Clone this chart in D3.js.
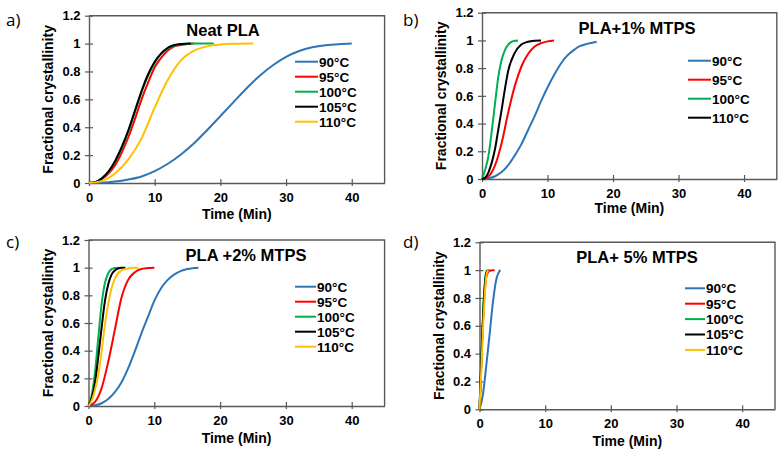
<!DOCTYPE html>
<html>
<head>
<meta charset="utf-8">
<script src="https://cdn.jsdelivr.net/npm/d3@7"></script>
<style>
  body { margin: 0; background: #fff; }
  text { font-family: "Liberation Sans", Arial, sans-serif; }
</style>
</head>
<body>
<script>
// canvas
const width = 784;
const height = 457;

// ticks
const xTicks = [0, 10, 20, 30, 40];
const xTickLabels = ['0', '10', '20', '30', '40'];
const yTicks = [0, 0.2, 0.4, 0.6, 0.8, 1, 1.2];
const yTickLabels = ['0', '0.2', '0.4', '0.6', '0.8', '1', '1.2'];

// series colours
const blue = '#2e75b6', red = '#ff0000', green = '#00b050', black = '#000000', yellow = '#ffc000';

// a) Neat PLA  [time (min), fractional crystallinity]
const neat90 = [[0,0],[2,0.002],[4,0.01],[6,0.025],[8,0.047],[10,0.085],[12,0.138],[14,0.205],[16,0.285],[18,0.38],[20,0.48],[22,0.58],[24,0.68],[26,0.77],[28,0.845],[30,0.905],[32,0.947],[34,0.973],[36,0.988],[38,0.996],[40,1]];
const neat95 = [[0,0],[1,0.005],[2,0.03],[3,0.07],[4,0.13],[5,0.22],[6,0.33],[7,0.46],[8,0.6],[9,0.72],[10,0.83],[11,0.9],[12,0.95],[13,0.98],[14,0.99],[15,0.997],[16,1]];
const neat100 = [[0,0],[1,0.006],[2,0.033],[3,0.08],[4,0.155],[5,0.25],[6,0.37],[7,0.51],[8,0.65],[9,0.77],[10,0.86],[11,0.93],[12,0.965],[13,0.985],[14,0.995],[15,0.999],[16,1],[17,1],[18,1],[19,1]];
const neat105 = [[0,0],[1,0.007],[2,0.035],[3,0.085],[4,0.16],[5,0.26],[6,0.38],[7,0.52],[8,0.66],[9,0.78],[10,0.87],[11,0.93],[12,0.97],[13,0.99],[14,0.997],[15.5,1]];
const neat110 = [[0,0],[2,0.015],[4,0.07],[6,0.17],[8,0.32],[10,0.54],[12,0.74],[14,0.88],[16,0.95],[18,0.98],[20,0.993],[22,0.998],[25,1]];

// b) PLA+1% MTPS
const one90 = [[0,0],[1,0.005],[2,0.02],[3,0.05],[4,0.1],[5,0.17],[6,0.25],[7,0.35],[8,0.45],[9,0.56],[10,0.66],[11,0.75],[12,0.83],[13,0.89],[14,0.93],[15,0.96],[16,0.975],[17,0.985],[17.5,0.99]];
const one95 = [[0,0],[1,0.02],[2,0.1],[3,0.26],[4,0.48],[5,0.67],[6,0.81],[7,0.9],[8,0.955],[9,0.98],[10,0.993],[11,1]];
const one100 = [[0,0],[0.5,0.07],[1,0.17],[1.5,0.35],[2,0.55],[2.5,0.74],[3,0.86],[3.5,0.93],[4,0.97],[4.5,0.99],[5,0.997],[5.5,1]];
const one110 = [[0,0],[0.5,0.01],[1,0.05],[1.5,0.12],[2,0.22],[2.5,0.36],[3,0.5],[3.5,0.65],[4,0.78],[5,0.91],[6,0.97],[7,0.99],[8,0.998],[9,1]];

// c) PLA +2% MTPS
const two90 = [[0,0],[1,0.005],[2,0.02],[3,0.05],[4,0.1],[5,0.17],[6,0.27],[7,0.39],[8,0.52],[9,0.64],[10,0.76],[11,0.85],[12,0.91],[13,0.95],[14,0.975],[15,0.99],[16,0.997],[16.7,1]];
const two95 = [[0,0],[1,0.03],[2,0.13],[3,0.32],[4,0.55],[5,0.78],[6,0.91],[7,0.965],[8,0.99],[9,0.997],[10,1]];
const two100 = [[0,0],[0.5,0.08],[1,0.25],[1.5,0.5],[2,0.74],[2.5,0.89],[3,0.96],[3.5,0.99],[4,0.997],[4.6,1]];
const two105 = [[0,0],[0.5,0.06],[1,0.17],[1.5,0.36],[2,0.57],[2.5,0.76],[3,0.88],[3.5,0.95],[4,0.98],[4.5,0.994],[5,0.999],[5.6,1]];
const two110 = [[0,0],[0.5,0.04],[1,0.12],[1.5,0.23],[2,0.4],[2.5,0.59],[3,0.74],[3.5,0.85],[4,0.92],[5,0.98],[6,0.995],[7,0.999],[7.6,1]];

// d) PLA+ 5% MTPS
const five90 = [[0,0],[0.5,0.1],[1,0.3],[1.5,0.52],[2,0.75],[2.5,0.92],[3,0.99],[3.2,1]];
const five95 = [[0,0],[0.25,0.3],[0.5,0.6],[0.75,0.82],[1,0.94],[1.25,0.98],[1.5,0.995],[2,1],[2.3,1]];
const five100 = [[0,0],[0.2,0.27],[0.4,0.53],[0.6,0.75],[0.8,0.9],[1,0.98],[1.2,1]];
const five105 = [[0,0],[0.2,0.25],[0.4,0.5],[0.6,0.72],[0.8,0.88],[1,0.97],[1.2,0.995],[1.5,1]];
const five110 = [[0,0],[0.2,0.2],[0.4,0.42],[0.6,0.64],[0.8,0.82],[1,0.94],[1.2,0.99],[1.4,1]];

// 面板布局 (positions only)
const panels = [
  { tag: 'a)', tagX: 6, tagY: 26, title: 'Neat PLA', titleX: 223, titleY: 35.5,
    left: 89, right: 384.6, top: 15.7, bottom: 183, yTitleX: 48, xTitleDy: 36,
    legX: 295, legY: 61.7, legStep: 15, legLen: 23,
    series: [['90°C', blue, neat90], ['95°C', red, neat95], ['100°C', green, neat100], ['105°C', black, neat105], ['110°C', yellow, neat110]] },
  { tag: 'b)', tagX: 403, tagY: 26, title: 'PLA+1% MTPS', titleX: 637, titleY: 33.5,
    left: 482, right: 776.8, top: 12.7, bottom: 179, yTitleX: 441, xTitleDy: 33.5,
    legX: 688, legY: 60.7, legStep: 19, legLen: 23,
    series: [['90°C', blue, one90], ['95°C', red, one95], ['100°C', green, one100], ['110°C', black, one110]] },
  { tag: 'c)', tagX: 6, tagY: 248, title: 'PLA +2% MTPS', titleX: 246, titleY: 260.5,
    left: 88.5, right: 384.6, top: 240, bottom: 406, yTitleX: 48, xTitleDy: 36.5,
    legX: 295, legY: 286.7, legStep: 15, legLen: 21,
    series: [['90°C', blue, two90], ['95°C', red, two95], ['100°C', green, two100], ['105°C', black, two105], ['110°C', yellow, two110]] },
  { tag: 'd)', tagX: 403, tagY: 248, title: 'PLA+ 5% MTPS', titleX: 637, titleY: 262.5,
    left: 479.5, right: 775, top: 242.3, bottom: 409.3, yTitleX: 439, xTitleDy: 37,
    legX: 685, legY: 288.3, legStep: 15.4, legLen: 20,
    series: [['90°C', blue, five90], ['95°C', red, five95], ['100°C', green, five100], ['105°C', black, five105], ['110°C', yellow, five110]] }
];

const axisColor = '#595959';

let svg = d3.select('body')
    .append('svg')
    .attr('width', width)
    .attr('height', height);

panels.forEach(p => {
  const x = d3.scaleLinear().domain([0, 45]).range([p.left, p.right]);
  const y = d3.scaleLinear().domain([0, 1.2]).range([p.bottom, p.top]);
  const g = svg.append('g');

  // 边框 (top / right)
  g.append('path')
    .attr('d', `M${p.left},${p.top}H${p.right}V${p.bottom}`)
    .attr('fill', 'none')
    .attr('stroke', axisColor)
    .attr('stroke-width', 1.4);

  // y轴
  const yAxis = g.append('g')
    .attr('transform', `translate(${p.left},0)`)
    .call(d3.axisLeft(y).tickValues(yTicks).tickFormat((d, i) => yTickLabels[i])
      .tickSize(4).tickSizeOuter(0).tickPadding(4.5));
  yAxis.selectAll('.tick line').attr('x1', 4);

  // x轴
  const xAxis = g.append('g')
    .attr('transform', `translate(0,${p.bottom})`)
    .call(d3.axisBottom(x).tickValues(xTicks).tickFormat((d, i) => xTickLabels[i])
      .tickSize(3).tickSizeOuter(0).tickPadding(6.5));
  xAxis.selectAll('.tick line').attr('y1', -4);

  [yAxis, xAxis].forEach(a => {
    a.select('.domain').attr('stroke', axisColor).attr('stroke-width', 1.4);
    a.selectAll('.tick line').attr('stroke', axisColor).attr('stroke-width', 1.2);
    a.selectAll('.tick text')
      .attr('fill', '#000')
      .style('font-family', '"Liberation Sans", Arial, sans-serif')
      .style('font-size', '13px')
      .style('font-weight', 'bold');
  });

  // 曲线
  const line = d3.line()
    .x(d => x(d[0]))
    .y(d => y(d[1]))
    .curve(d3.curveMonotoneX);

  g.selectAll('.curve')
    .data(p.series)
    .enter()
    .append('path')
    .attr('class', 'curve')
    .attr('d', d => line(d[2]))
    .attr('fill', 'none')
    .attr('stroke', d => d[1])
    .attr('stroke-width', 2);

  // 图例
  const leg = g.selectAll('.leg')
    .data(p.series)
    .enter()
    .append('g')
    .attr('class', 'leg')
    .attr('transform', (d, i) => `translate(${p.legX},${p.legY + i * p.legStep})`);
  leg.append('line')
    .attr('x1', 0).attr('x2', p.legLen)
    .attr('stroke', d => d[1])
    .attr('stroke-width', 2);
  leg.append('text')
    .attr('x', p.legLen + 1)
    .attr('dy', '0.36em')
    .style('font-size', '13.5px')
    .style('font-weight', 'bold')
    .text(d => d[0]);

  // 标题
  g.append('text')
    .attr('x', p.titleX)
    .attr('y', p.titleY)
    .attr('text-anchor', 'middle')
    .style('font-size', '16.5px')
    .style('font-weight', 'bold')
    .text(p.title);

  // 轴标题
  g.append('text')
    .attr('transform', `translate(${p.yTitleX},${(p.top + p.bottom) / 2}) rotate(-90)`)
    .attr('dy', '0.36em')
    .attr('text-anchor', 'middle')
    .style('font-size', '14px')
    .style('font-weight', 'bold')
    .text('Fractional crystallinity');

  g.append('text')
    .attr('x', (p.left + p.right) / 2)
    .attr('y', p.bottom + p.xTitleDy)
    .attr('text-anchor', 'middle')
    .style('font-size', '14px')
    .style('font-weight', 'bold')
    .text('Time (Min)');

  // 面板编号
  g.append('text')
    .attr('x', p.tagX)
    .attr('y', p.tagY)
    .style('font-family', '"Open Sans", "Noto Sans", sans-serif')
    .style('font-size', '17px')
    .text(p.tag);
});
</script>
</body>
</html>
